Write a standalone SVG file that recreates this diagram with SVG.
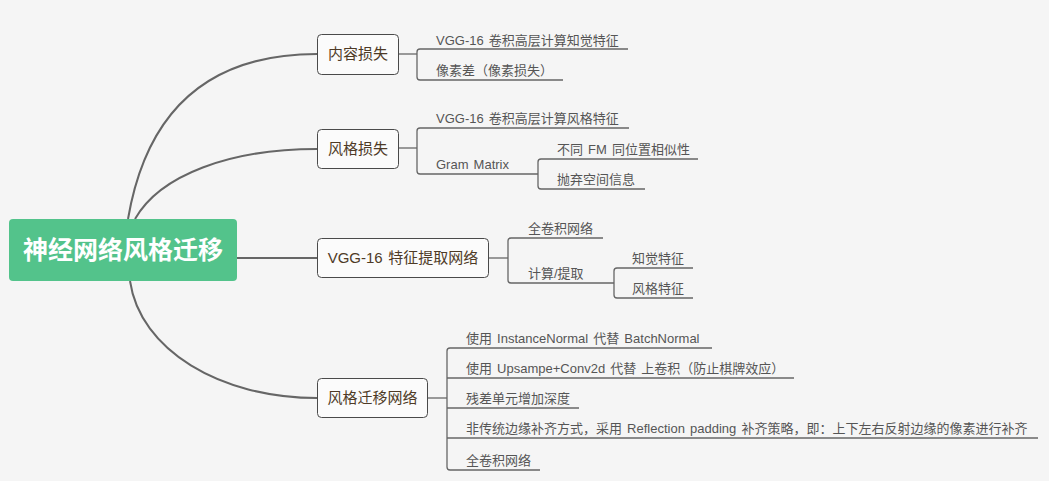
<svg xmlns="http://www.w3.org/2000/svg" width="1049" height="481" viewBox="0 0 1049 481">
<style>
.bg{fill:#f5f5f5}
.root{fill:#53c38b}
.rt{font-family:"Liberation Sans","Noto Sans CJK SC",sans-serif;font-size:25px;font-weight:bold;fill:#ffffff;text-anchor:middle}
.box{fill:#fbfbfb;stroke:#4a4a4a;stroke-width:1}
.bt{font-family:"Liberation Sans","Noto Sans CJK SC",sans-serif;font-size:15px;fill:#4e3a26;text-anchor:middle;word-spacing:1.5px}
.ct{font-family:"Liberation Sans","Noto Sans CJK SC",sans-serif;font-size:13px;fill:#555555;word-spacing:1.5px}
.curve{fill:none;stroke:#666666;stroke-width:2}
.ln{fill:none;stroke:#666666;stroke-width:1.3}
</style>
<rect class="bg" x="0" y="0" width="1049" height="481"/>
<g id="connectors">
<path class="curve" d="M128,219 C150,90 230,54 317,54"/>
<path class="curve" d="M135,219 C160,175 230,149 317,149"/>
<path class="curve" d="M237,258 L317,258"/>
<path class="curve" d="M130,281 C140,350 220,398 317,398"/>
<path class="ln" d="M398,54 H417"/>
<path class="ln" d="M628,49 H420 Q417,49 417,52 V77 Q417,80 420,80 H563"/>
<path class="ln" d="M398,148 H417"/>
<path class="ln" d="M629,128 H420 Q417,128 417,131 V171 Q417,174 420,174 H538"/>
<path class="ln" d="M698,159 H541 Q538,159 538,162 V186 Q538,189 541,189 H645"/>
<path class="ln" d="M489,258 H508"/>
<path class="ln" d="M603,238 H511 Q508,238 508,241 V280 Q508,283 511,283 H614"/>
<path class="ln" d="M693,268 H617 Q614,268 614,271 V295 Q614,298 617,298 H693"/>
<path class="ln" d="M428,398 H447"/>
<path class="ln" d="M712,348 H450 Q447,348 447,351 V467 Q447,470 450,470 H540"/>
<path class="ln" d="M447,378 H794"/>
<path class="ln" d="M447,408 H579"/>
<path class="ln" d="M447,438 H1038"/>
</g>
<g id="root">
<rect class="root" x="9" y="219" width="228" height="62" rx="4"/>
<text class="rt" x="123" y="259">神经网络风格迁移</text>
</g>
<g id="content-loss">
<rect class="box" x="317.5" y="34.5" width="81" height="40" rx="4"/>
<text class="bt" x="358" y="59">内容损失</text>
</g>
<g id="content-1"><text class="ct" x="436" y="45">VGG-16 卷积高层计算知觉特征</text></g>
<g id="content-2"><text class="ct" x="436" y="75">像素差（像素损失）</text></g>
<g id="style-loss">
<rect class="box" x="317.5" y="129.5" width="81" height="39" rx="4"/>
<text class="bt" x="358" y="154">风格损失</text>
</g>
<g id="style-1"><text class="ct" x="436" y="123">VGG-16 卷积高层计算风格特征</text></g>
<g id="style-2"><text class="ct" x="436" y="169">Gram Matrix</text></g>
<g id="gram-1"><text class="ct" x="557" y="154">不同 FM 同位置相似性</text></g>
<g id="gram-2"><text class="ct" x="557" y="184">抛弃空间信息</text></g>
<g id="vgg">
<rect class="box" x="317.5" y="238.5" width="171" height="39" rx="4"/>
<text class="bt" x="403" y="263">VGG-16 特征提取网络</text>
</g>
<g id="vgg-1"><text class="ct" x="528" y="233">全卷积网络</text></g>
<g id="vgg-2"><text class="ct" x="528" y="278">计算/提取</text></g>
<g id="calc-1"><text class="ct" x="632" y="263">知觉特征</text></g>
<g id="calc-2"><text class="ct" x="632" y="293">风格特征</text></g>
<g id="transfer">
<rect class="box" x="317.5" y="378.5" width="110" height="39" rx="4"/>
<text class="bt" x="372.5" y="403">风格迁移网络</text>
</g>
<g id="transfer-1"><text class="ct" x="466" y="343">使用 InstanceNormal 代替 BatchNormal</text></g>
<g id="transfer-2"><text class="ct" x="466" y="373">使用 Upsampe+Conv2d 代替 上卷积（防止棋牌效应）</text></g>
<g id="transfer-3"><text class="ct" x="466" y="403">残差单元增加深度</text></g>
<g id="transfer-4"><text class="ct" x="466" y="433">非传统边缘补齐方式，采用 Reflection padding 补齐策略，即：上下左右反射边缘的像素进行补齐</text></g>
<g id="transfer-5"><text class="ct" x="466" y="465">全卷积网络</text></g>
</svg>
